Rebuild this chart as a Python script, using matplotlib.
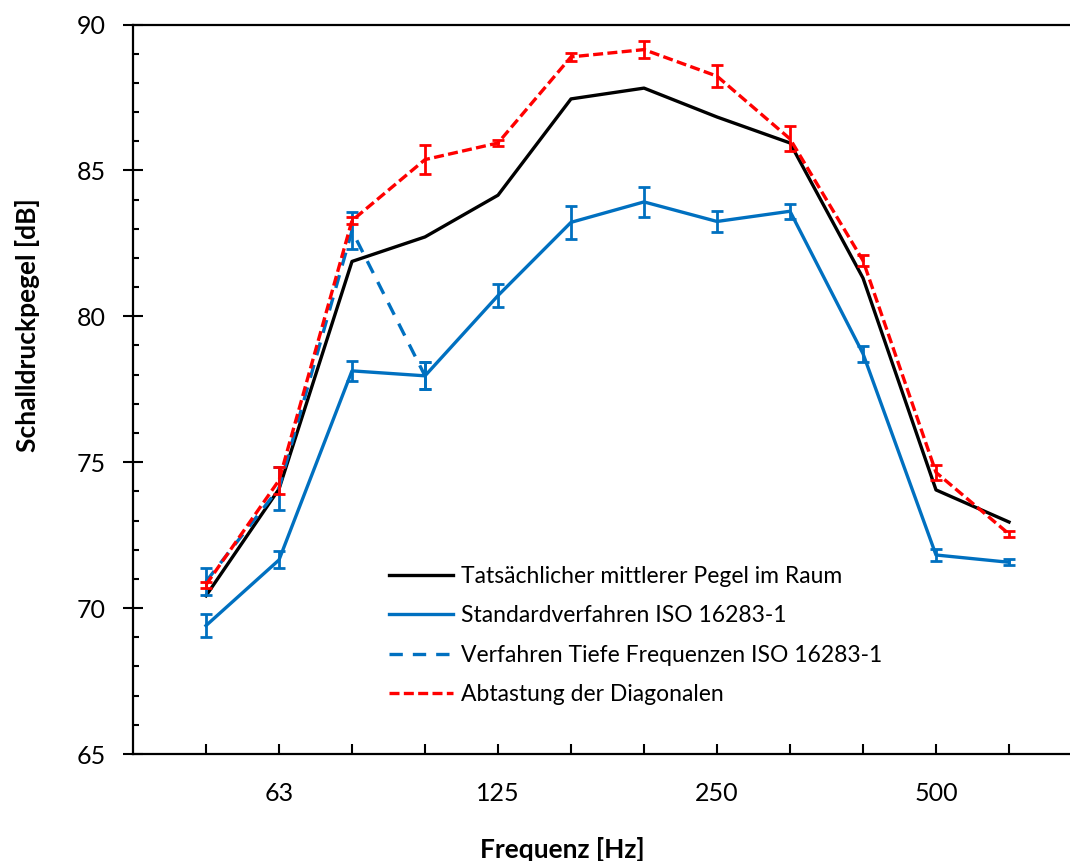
import matplotlib
matplotlib.use("Agg")
import matplotlib.pyplot as plt
from matplotlib.lines import Line2D
from matplotlib.ticker import MultipleLocator

plt.rcParams["font.family"] = ["Lato", "DejaVu Sans"]

# 1/3-octave bands
bands = ["50", "63", "80", "100", "125", "160", "200", "250", "315", "400", "500", "630"]
shown_labels = {"63", "125", "250", "500"}

actual = [70.42, 74.08, 81.88, 82.72, 84.15, 87.45, 87.82, 86.83, 85.94, 81.31, 74.05, 72.95]
standard = [69.40, 71.65, 78.13, 77.96, 80.71, 83.22, 83.92, 83.25, 83.60, 78.72, 71.82, 71.57]
standard_err = [0.39, 0.29, 0.34, 0.46, 0.38, 0.56, 0.52, 0.35, 0.25, 0.27, 0.20, 0.10]
low_freq = [70.91, 74.11, 82.93, 77.96]          # only 50..100 Hz
low_freq_err = [0.46, 0.74, 0.64, 0.46]
diagonal = [70.80, 74.38, 83.28, 85.37, 85.94, 88.89, 89.14, 88.23, 86.08, 81.91, 74.65, 72.54]
diagonal_err = [0.10, 0.47, 0.11, 0.50, 0.11, 0.15, 0.30, 0.38, 0.43, 0.20, 0.26, 0.10]

BLACK = "#000000"
BLUE = "#0070C0"
RED = "#FF0000"

x = list(range(1, len(bands) + 1))
x_low = x[:len(low_freq)]

fig = plt.figure(figsize=(10.70, 8.61), dpi=100)
ax = fig.add_axes([133 / 1070, 107 / 861, 937 / 1070, 729.5 / 861])

lw = 2.4
eb = dict(elinewidth=2.0, capsize=4.3, capthick=2.0, linestyle="none")

ax.plot(x, actual, color=BLACK, lw=lw, zorder=3)

ax.plot(x, standard, color=BLUE, lw=lw, zorder=3)
ax.errorbar(x, standard, yerr=standard_err, ecolor=BLUE, **eb, zorder=3)

ax.plot(x_low, low_freq, color=BLUE, lw=lw, dashes=(4, 3), zorder=4)
ax.errorbar(x_low, low_freq, yerr=low_freq_err, ecolor=BLUE, **eb, zorder=4)

ax.plot(x, diagonal, color=RED, lw=lw, dashes=(3, 1.3), zorder=5)
ax.errorbar(x, diagonal, yerr=diagonal_err, ecolor=RED, **eb, zorder=5)

ax.set_xlim(0, 937 / 73)
ax.set_ylim(65, 90)
ax.set_xticks(x)
ax.set_xticklabels([b if b in shown_labels else "" for b in bands])
ax.yaxis.set_major_locator(MultipleLocator(5))
ax.yaxis.set_minor_locator(MultipleLocator(1))

ax.tick_params(axis="y", which="major", direction="inout", length=13.7, width=1.5,
               pad=13.0, labelsize=18)
ax.tick_params(axis="y", which="minor", direction="in", length=4.3, width=1.5)
ax.tick_params(axis="x", which="major", direction="in", length=7.2, width=1.5,
               pad=20, labelsize=18)

ax.spines["right"].set_visible(False)
for s in ["left", "bottom", "top"]:
    ax.spines[s].set_linewidth(1.6)

handles = [
    Line2D([], [], color=BLACK, lw=lw),
    Line2D([], [], color=BLUE, lw=lw),
    Line2D([], [], color=BLUE, lw=lw, dashes=(4, 3)),
    Line2D([], [], color=RED, lw=lw, dashes=(3, 1.3)),
]
labels = [
    "Tatsächlicher mittlerer Pegel im Raum",
    "Standardverfahren ISO 16283-1",
    "Verfahren Tiefe Frequenzen ISO 16283-1",
    "Abtastung der Diagonalen",
]
ax.legend(handles, labels, frameon=False, fontsize=16.5, handlelength=2.8,
          handletextpad=0.35, labelspacing=0.8, borderaxespad=0,
          loc="upper left", bbox_to_anchor=(380 / 1070, 1 - 557 / 861),
          bbox_transform=fig.transFigure)

fig.text(562 / 1070, 1 - 849 / 861, "Frequenz [Hz]", ha="center", va="center",
         fontsize=19, fontweight="bold")
fig.text(28 / 1070, 1 - 325 / 861, "Schalldruckpegel [dB]", ha="center", va="center",
         rotation=90, fontsize=19, fontweight="bold")

fig.savefig("out.png", dpi=100)
